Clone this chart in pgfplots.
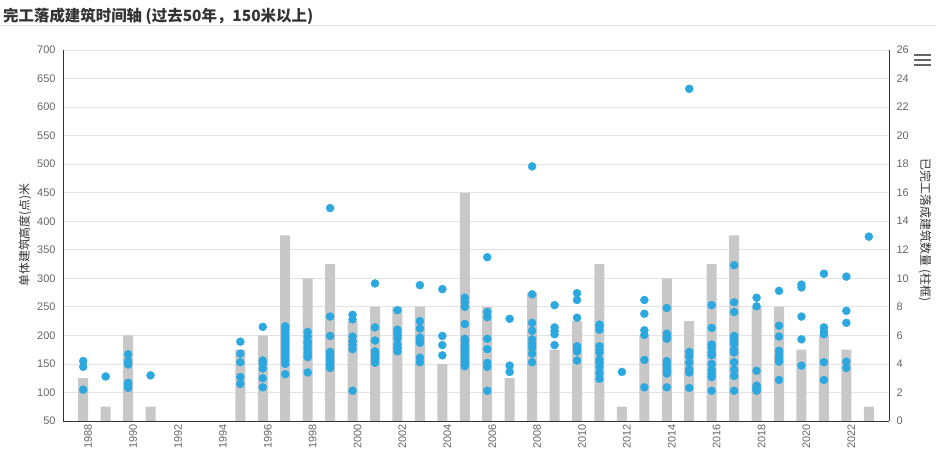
\documentclass[border=0pt]{standalone}
\usepackage{fontspec}
\setmainfont{Liberation Sans}
\newfontfamily\cjk{Noto Sans CJK SC}
\usepackage{pgfplots}
\usepackage{pgfplotstable}
\pgfplotsset{compat=1.18}
\definecolor{dotblue}{HTML}{2BA8E0}
\definecolor{bargray}{HTML}{C8C8C8}
\definecolor{gridgray}{HTML}{E3E3E3}
\definecolor{ticktext}{HTML}{666666}
\definecolor{axisdark}{HTML}{333333}

% completed buildings per year (right axis)
\pgfplotstableread{
year count
1988 3
1989 1
1990 6
1991 1
1995 5
1996 6
1997 13
1998 10
1999 11
2000 7
2001 8
2002 8
2003 8
2004 4
2005 16
2006 8
2007 3
2008 9
2009 5
2010 7
2011 11
2012 1
2013 6
2014 10
2015 7
2016 11
2017 13
2018 8
2019 8
2020 5
2021 6
2022 5
2023 1
}\bars

% single building heights in metres (left axis)
\pgfplotstableread{
year h
1988 155
1988 145
1988 105
1989 128
1990 167
1990 155
1990 149
1990 117
1990 112
1990 108
1991 130
1995 189
1995 168
1995 153
1995 127
1995 115
1996 215
1996 156
1996 151
1996 142
1996 125
1996 109
1997 216
1997 210
1997 204
1997 198
1997 192
1997 186
1997 180
1997 174
1997 168
1997 162
1997 156
1997 150
1997 132
1998 206
1998 198
1998 190
1998 186
1998 181
1998 176
1998 170
1998 165
1998 162
1998 135
1999 423
1999 233
1999 199
1999 171
1999 166
1999 161
1999 157
1999 153
1999 149
1999 145
1999 143
2000 236
2000 228
2000 198
2000 190
2000 183
2000 176
2000 103
2001 291
2001 214
2001 191
2001 172
2001 167
2001 162
2001 157
2001 152
2002 244
2002 210
2002 205
2002 200
2002 195
2002 184
2002 178
2002 172
2003 288
2003 225
2003 212
2003 196
2003 190
2003 187
2003 161
2003 153
2004 281
2004 199
2004 183
2004 165
2005 266
2005 258
2005 250
2005 220
2005 194
2005 190
2005 184
2005 180
2005 175
2005 171
2005 165
2005 160
2005 157
2005 153
2005 149
2005 146
2006 337
2006 241
2006 232
2006 194
2006 176
2006 152
2006 145
2006 103
2007 229
2007 147
2007 136
2008 496
2008 272
2008 222
2008 208
2008 193
2008 185
2008 178
2008 168
2008 153
2009 253
2009 214
2009 208
2009 202
2009 183
2010 274
2010 262
2010 231
2010 181
2010 176
2010 172
2010 156
2011 219
2011 215
2011 210
2011 181
2011 175
2011 170
2011 157
2011 152
2011 145
2011 134
2011 124
2012 136
2013 262
2013 238
2013 209
2013 201
2013 157
2013 109
2014 248
2014 203
2014 198
2014 194
2014 155
2014 149
2014 143
2014 138
2014 133
2014 109
2015 632
2015 171
2015 163
2015 152
2015 140
2015 135
2015 108
2016 253
2016 213
2016 184
2016 178
2016 170
2016 165
2016 150
2016 139
2016 133
2016 127
2016 103
2017 323
2017 258
2017 241
2017 199
2017 195
2017 191
2017 185
2017 175
2017 170
2017 153
2017 140
2017 129
2017 103
2018 266
2018 251
2018 138
2018 112
2018 109
2018 106
2018 104
2018 103
2019 278
2019 217
2019 198
2019 173
2019 165
2019 159
2019 154
2019 122
2020 289
2020 284
2020 233
2020 193
2020 147
2021 308
2021 214
2021 207
2021 202
2021 153
2021 122
2022 303
2022 243
2022 222
2022 154
2022 143
2023 373
}\towers

\pgfplotsset{
  base/.style={
    scale only axis, width=826bp, height=371bp,
    at={(63bp,36bp)}, anchor=south west,
    xmin=1987.1, xmax=2023.9,
    major tick length=0pt,
    axis line style={axisdark, line width=0.8bp},
    ticklabel style={font=\fontsize{11}{13}\selectfont, text=ticktext},
    /pgf/number format/assume math mode=true,
    /pgf/number format/1000 sep={},
  }
}

\begin{document}
\begin{tikzpicture}
\useasboundingbox (0,0) rectangle (936bp,457bp);

% title and rule
\node[anchor=west, inner sep=0pt, text=axisdark] at (3bp,441bp)
  {\cjk\bfseries\fontsize{15.5}{18}\selectfont 完工落成建筑时间轴 (过去50年，150米以上)};
\draw[gridgray, line width=1bp] (0bp,431bp) -- (936bp,431bp);

% menu icon
\foreach \yy in {402,397,392}
  \draw[ticktext, line width=2bp] (914bp,\yy bp) -- (931bp,\yy bp);

% axis titles
\node[rotate=90, text=axisdark] at (25bp,222bp)
  {\cjk\fontsize{12}{14}\selectfont 单体建筑高度(点)米};
\node[rotate=-90, text=axisdark] at (925bp,227bp)
  {\cjk\fontsize{12}{14}\selectfont 已完工落成建筑数量 (柱框)};

% bars on the right axis
\begin{axis}[base,
  axis y line*=right, axis x line*=bottom,
  ymin=0, ymax=26, ytick={0,2,...,26},
  ymajorgrids, grid style={gridgray, line width=0.8bp},
  xtick={1988,1990,...,2022},
  xticklabel style={rotate=90, anchor=east, yshift=-5bp},
  yticklabel style={xshift=4bp},
]
\addplot[ybar, bar width=10bp, fill=bargray, draw=none] table[x=year, y=count] {\bars};
\end{axis}

% building heights on the left axis
\begin{axis}[base,
  axis y line*=left, axis x line=none,
  ymin=50, ymax=700, ytick={50,100,...,700},
  yticklabel style={xshift=-4bp},
]
\addplot[only marks, mark=*, mark size=4bp, color=dotblue]
  table[x=year, y=h] {\towers};
\end{axis}
\end{tikzpicture}
\end{document}
